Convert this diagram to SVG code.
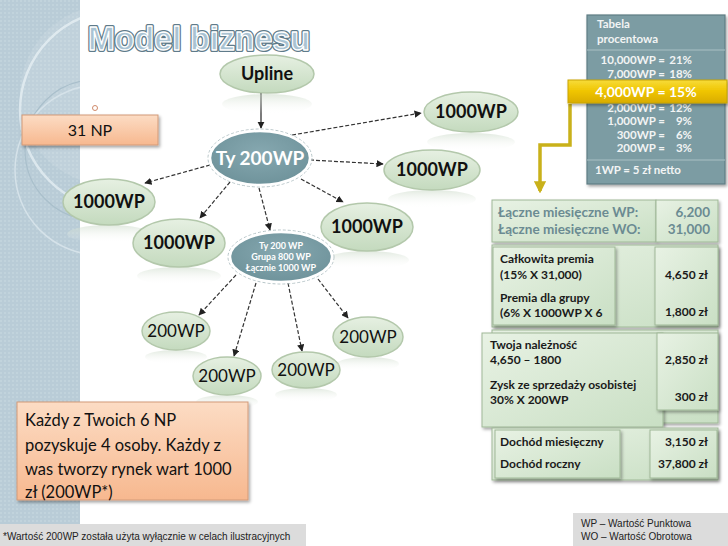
<svg xmlns="http://www.w3.org/2000/svg" width="728" height="546" viewBox="0 0 728 546">
<defs>
<linearGradient id="gEl" x1="0" y1="0" x2="0" y2="1"><stop offset="0" stop-color="#e6f0e2"/><stop offset="1" stop-color="#c4dabe"/></linearGradient>
<linearGradient id="gBox" x1="0" y1="0" x2="1" y2="1"><stop offset="0" stop-color="#e8f2e4"/><stop offset="1" stop-color="#c9dfc4"/></linearGradient>
<radialGradient id="gTeal" cx="0.5" cy="0.4" r="0.6"><stop offset="0" stop-color="#86a8b0"/><stop offset="1" stop-color="#6f939b"/></radialGradient>
<linearGradient id="gPeach" x1="0" y1="0" x2="0" y2="1"><stop offset="0" stop-color="#fcdcc4"/><stop offset="1" stop-color="#f7b88f"/></linearGradient>
<linearGradient id="gGold" x1="0" y1="0" x2="0" y2="1"><stop offset="0" stop-color="#f7dc3a"/><stop offset="0.5" stop-color="#efc400"/><stop offset="1" stop-color="#d9ac00"/></linearGradient>
<linearGradient id="gRefl" x1="0" y1="0" x2="0" y2="1"><stop offset="0" stop-color="#c9d8c6" stop-opacity="0.55"/><stop offset="1" stop-color="#ffffff" stop-opacity="0"/></linearGradient>
<filter id="sh" x="-20%" y="-20%" width="150%" height="160%"><feDropShadow dx="1.5" dy="2" stdDeviation="1.5" flood-color="#000" flood-opacity="0.35"/></filter>
<marker id="ah" viewBox="0 0 10 10" refX="9" refY="5" markerWidth="6" markerHeight="6" orient="auto"><path d="M0 0 L10 5 L0 10 z" fill="#222"/></marker>
<marker id="ay" viewBox="0 0 10 10" refX="8" refY="5" markerWidth="3.5" markerHeight="3.5" orient="auto"><path d="M0 0 L10 5 L0 10 z" fill="#c9b11a"/></marker>
<clipPath id="cpPanel"><rect x="0" y="0" width="80" height="524"/></clipPath>
<pattern id="dots" width="4" height="4" patternUnits="userSpaceOnUse"><rect width="4" height="4" fill="#b9ccd7"/><rect width="2" height="2" fill="#c1d3dc"/></pattern>
</defs>
<style>
.el{fill:url(#gEl);stroke:#b3c8ab;stroke-width:1.5}
.teal{fill:url(#gTeal);stroke:#fff;stroke-width:2.5}
.refl{fill:url(#gRefl)}
.nb{font-family:Lato,"Liberation Sans",sans-serif;font-weight:bold;font-size:18px;fill:#111;text-anchor:middle}
.nr{font-family:Lato,"Liberation Sans",sans-serif;font-size:17px;fill:#111;text-anchor:middle}
.nw{font-family:Lato,"Liberation Sans",sans-serif;font-weight:bold;fill:#fff;text-anchor:middle}
.conn{fill:none;stroke:#333;stroke-width:1.2;stroke-dasharray:4 2;marker-end:url(#ah)}
.box{fill:url(#gBox);stroke:#9fb897;stroke-width:1;filter:url(#sh)}
.tb{font-family:Lato,"Liberation Sans",sans-serif;font-weight:bold;font-size:12px;fill:#1a1a1a}
.tg{font-family:Lato,"Liberation Sans",sans-serif;font-weight:bold;font-size:13.5px;fill:#6b8b92}
.tt{font-family:Lato,"Liberation Sans",sans-serif;font-weight:bold;font-size:11.5px;fill:#f2f4f4}
.ar{font-family:"Liberation Sans",Arial,sans-serif;font-size:10px;fill:#222}
</style>
<rect width="728" height="546" fill="#fff"/>
<g id="panel" clip-path="url(#cpPanel)">
<rect x="0" y="0" width="80" height="524" fill="url(#dots)"/>
<circle cx="120" cy="110" r="100" fill="none" stroke="#e4edf2" stroke-width="2.5" opacity="0.8"/>
<circle cx="110" cy="95" r="90" fill="#ffffff" opacity="0.1"/>
<circle cx="95" cy="150" r="70" fill="none" stroke="#a9bfcb" stroke-width="1.2"/>
<circle cx="100" cy="170" r="85" fill="none" stroke="#d5e2e9" stroke-width="1.5"/>
</g>
<g id="title">
<text x="88" y="50" font-family="'Liberation Sans',Arial,sans-serif" font-weight="bold" font-size="34" textLength="222" lengthAdjust="spacingAndGlyphs" fill="none" stroke="#5f7b8a" stroke-width="4" stroke-linejoin="round">Model biznesu</text>
<text x="88" y="50" font-family="'Liberation Sans',Arial,sans-serif" font-weight="bold" font-size="34" textLength="222" lengthAdjust="spacingAndGlyphs" fill="#a9c3d3" stroke="#ffffff" stroke-width="1.3" stroke-linejoin="round">Model biznesu</text>
</g>
<g id="connectors">
<path d="M261 93 L261 128" fill="none" stroke="#222" stroke-width="1.2" marker-end="url(#ah)"/>
<path class="conn" d="M292 135 L421 113"/>
<path class="conn" d="M310 160 L383 164"/>
<path class="conn" d="M301 179 L343 202"/>
<path class="conn" d="M210 165 L145 183"/>
<path class="conn" d="M230 182 L200 218"/>
<path class="conn" d="M259 188 L270 230"/>
<path class="conn" d="M236 275 L199 315"/>
<path class="conn" d="M256 283 L234 356"/>
<path class="conn" d="M288 283 L302 351"/>
<path class="conn" d="M318 279 L348 318"/>
<path d="M570 104 L570 145 L540 145 L540 191" fill="none" stroke="#c9b11a" stroke-width="3.5" marker-end="url(#ay)"/>
</g>
<g id="upline">
<ellipse class="refl" cx="267" cy="104" rx="45" ry="10"/>
<ellipse class="el" cx="267" cy="74" rx="47" ry="19"/>
<text class="nb" x="267" y="80" font-size="17">Upline</text>
</g>
<g id="ty200">
<ellipse cx="260" cy="158" rx="52" ry="29" fill="none" stroke="#b8c6c9" stroke-width="1" stroke-dasharray="3 2"/>
<ellipse class="teal" cx="260" cy="158" rx="50" ry="27"/>
<text class="nw" x="260" y="164.5" font-size="19">Ty 200WP</text>
</g>
<g id="n1000-tr">
<ellipse class="refl" cx="471" cy="142" rx="44" ry="9"/>
<ellipse class="el" cx="471" cy="112" rx="47" ry="20"/>
<text class="nb" x="471" y="118">1000WP</text>
</g>
<g id="n1000-rm">
<ellipse class="refl" cx="432" cy="199" rx="44" ry="9"/>
<ellipse class="el" cx="432" cy="170" rx="48" ry="20"/>
<text class="nb" x="432" y="176">1000WP</text>
</g>
<g id="n1000-cr">
<ellipse class="refl" cx="367" cy="260" rx="42" ry="9"/>
<ellipse class="el" cx="367" cy="227" rx="46" ry="24"/>
<text class="nb" x="367" y="233">1000WP</text>
</g>
<g id="n1000-lt">
<ellipse class="refl" cx="109" cy="234" rx="42" ry="9"/>
<ellipse class="el" cx="109" cy="202" rx="46" ry="23"/>
<text class="nb" x="109" y="208">1000WP</text>
</g>
<g id="n1000-lm">
<ellipse class="refl" cx="179" cy="276" rx="42" ry="9"/>
<ellipse class="el" cx="179" cy="243" rx="46" ry="24"/>
<text class="nb" x="179" y="249">1000WP</text>
</g>
<g id="grupa">
<ellipse cx="281" cy="257" rx="53" ry="27" fill="none" stroke="#b8c6c9" stroke-width="1" stroke-dasharray="3 2"/>
<ellipse class="teal" cx="281" cy="257" rx="51" ry="25"/>
<text class="nw" x="281" y="249" font-size="9">Ty 200 WP</text>
<text class="nw" x="281" y="260" font-size="9">Grupa 800 WP</text>
<text class="nw" x="281" y="271" font-size="9">Łącznie 1000 WP</text>
</g>
<g id="n200-l">
<ellipse class="refl" cx="176" cy="357" rx="31" ry="7"/>
<ellipse class="el" cx="176" cy="331" rx="34" ry="19"/>
<text class="nr" x="176" y="337">200WP</text>
</g>
<g id="n200-bl">
<ellipse class="refl" cx="227" cy="402" rx="31" ry="7"/>
<ellipse class="el" cx="227" cy="376" rx="34" ry="19"/>
<text class="nr" x="227" y="382">200WP</text>
</g>
<g id="n200-bm">
<ellipse class="refl" cx="306" cy="395" rx="31" ry="7"/>
<ellipse class="el" cx="306" cy="370" rx="34" ry="18"/>
<text class="nr" x="306" y="376">200WP</text>
</g>
<g id="n200-r">
<ellipse class="refl" cx="368" cy="364" rx="31" ry="7"/>
<ellipse class="el" cx="368" cy="337" rx="35" ry="20"/>
<text class="nr" x="368" y="343">200WP</text>
</g>
<g id="np31">
<circle cx="95" cy="108" r="2.5" fill="none" stroke="#d08a6a" stroke-width="1"/>
<rect x="22" y="115" width="136" height="30" fill="url(#gPeach)" stroke="#d29a78" stroke-width="1" filter="url(#sh)"/>
<text x="90" y="136" font-family="Lato,'Liberation Sans',sans-serif" font-size="16" fill="#111" text-anchor="middle">31 NP</text>
</g>
<g id="kazdy">
<rect x="17" y="402" width="231" height="98" fill="url(#gPeach)" stroke="#d29a78" stroke-width="1" filter="url(#sh)"/>
<g font-family="Lato,'Liberation Sans',sans-serif" font-size="16.5" fill="#111">
<text x="25" y="426">Każdy z Twoich 6 NP</text>
<text x="25" y="451">pozyskuje 4 osoby. Każdy z</text>
<text x="25" y="475">was tworzy rynek wart 1000</text>
<text x="25" y="498">zł (200WP*)</text>
</g>
</g>
<g id="tabela">
<rect x="587" y="15" width="138" height="169" fill="#7c9ca3" stroke="#5f7d84" stroke-width="1.2" filter="url(#sh)"/>
<line x1="587" y1="50" x2="725" y2="50" stroke="#a9c0c4" stroke-width="1"/>
<line x1="587" y1="160" x2="725" y2="160" stroke="#a9c0c4" stroke-width="1"/>
<text class="tt" x="597" y="28" font-size="12.5">Tabela</text>
<text class="tt" x="597" y="43" font-size="12.5">procentowa</text>
<g class="tt" text-anchor="end">
<text x="665" y="64">10,000WP =</text><text x="692" y="64">21%</text>
<text x="665" y="77.5">7,000WP =</text><text x="692" y="77.5">18%</text>
<text x="665" y="112">2,000WP =</text><text x="692" y="112">12%</text>
<text x="665" y="125">1,000WP =</text><text x="692" y="125">9%</text>
<text x="665" y="138.5">300WP =</text><text x="692" y="138.5">6%</text>
<text x="665" y="152">200WP =</text><text x="692" y="152">3%</text>
</g>
<text class="tt" x="595" y="174" font-size="12">1WP = 5 zł netto</text>
<rect x="568" y="80" width="159" height="23" fill="url(#gGold)" stroke="#c9a400" stroke-width="1" filter="url(#sh)"/>
<text class="nw" x="646" y="96.5" font-size="14">4,000WP = 15%</text>
</g>
<g id="laczne">
<rect class="box" x="492" y="200" width="164" height="42"/>
<rect class="box" x="656" y="200" width="62" height="42"/>
<text class="tg" x="498" y="217">Łączne miesięczne WP:</text>
<text class="tg" x="498" y="234">Łączne miesięczne WO:</text>
<text class="tg" x="710" y="217" text-anchor="end">6,200</text>
<text class="tg" x="710" y="234" text-anchor="end">31,000</text>
</g>
<g id="premia">
<rect class="box" x="492" y="245" width="226" height="82"/>
<rect class="box" x="493" y="247" width="122" height="78"/>
<rect class="box" x="655" y="247" width="63" height="78"/>
<text class="tb" x="500" y="263">Całkowita premia</text>
<text class="tb" x="500" y="279">(15% X 31,000)</text>
<text class="tb" x="500" y="302">Premia dla grupy</text>
<text class="tb" x="500" y="317">(6% X 1000WP X 6</text>
<text class="tb" x="708" y="279" text-anchor="end" font-size="11">4,650 zł</text>
<text class="tb" x="708" y="316" text-anchor="end" font-size="11">1,800 zł</text>
</g>
<g id="naleznosc">
<rect class="box" x="492" y="330" width="226" height="93"/>
<rect class="box" x="482" y="333" width="181" height="94"/>
<rect class="box" x="657" y="333" width="61" height="77"/>
<text class="tb" x="490" y="349">Twoja należność</text>
<text class="tb" x="490" y="364">4,650 – 1800</text>
<text class="tb" x="490" y="389">Zysk ze sprzedaży osobistej</text>
<text class="tb" x="490" y="404">30% X 200WP</text>
<text class="tb" x="708" y="364" text-anchor="end" font-size="11">2,850 zł</text>
<text class="tb" x="708" y="401" text-anchor="end" font-size="11">300 zł</text>
</g>
<g id="dochod">
<rect class="box" x="492" y="428" width="226" height="52"/>
<rect class="box" x="495" y="430" width="125" height="48"/>
<rect class="box" x="650" y="430" width="67" height="48"/>
<text class="tb" x="500" y="446">Dochód miesięczny</text>
<text class="tb" x="500" y="468">Dochód roczny</text>
<text class="tb" x="708" y="446" text-anchor="end" font-size="11">3,150 zł</text>
<text class="tb" x="708" y="468" text-anchor="end" font-size="11">37,800 zł</text>
</g>
<g id="footnote">
<rect x="0" y="524" width="306" height="22" fill="#dcdcdc"/>
<text class="ar" x="3" y="540">*Wartość 200WP została użyta wyłącznie w celach ilustracyjnych</text>
</g>
<g id="legend">
<rect x="573" y="513" width="155" height="33" fill="#dcdcdc"/>
<text class="ar" x="581" y="527">WP – Wartość Punktowa</text>
<text class="ar" x="581" y="540">WO – Wartość Obrotowa</text>
</g>
</svg>
